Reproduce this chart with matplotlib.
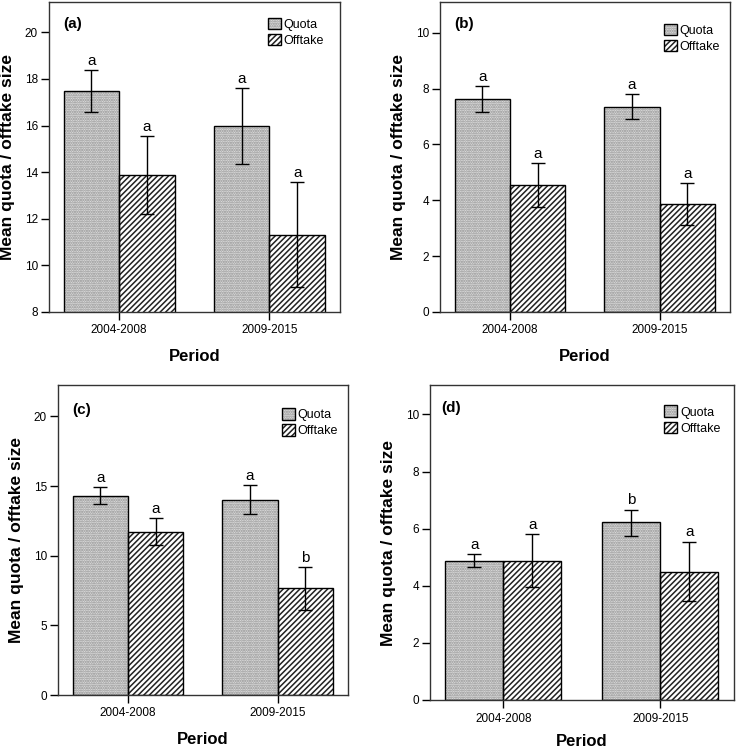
"""Mean quota / offtake size per period, four panels (a)-(d)."""

import matplotlib
matplotlib.use("Agg")
import matplotlib.pyplot as plt
from matplotlib.legend_handler import HandlerTuple
from matplotlib.patches import Patch

plt.rcParams["font.family"] = ["Liberation Sans", "DejaVu Sans"]
plt.rcParams["hatch.linewidth"] = 1.1

periods = ["2004-2008", "2009-2015"]
panels = ["(a)", "(b)", "(c)", "(d)"]

# means and error bar ends, one list per period
a_quota = [17.50, 15.97]
a_quota_lo = [16.57, 14.33]
a_quota_hi = [18.40, 17.60]
a_off = [13.88, 11.31]
a_off_lo = [12.20, 9.09]
a_off_hi = [15.54, 13.57]

b_quota = [7.62, 7.35]
b_quota_lo = [7.15, 6.91]
b_quota_hi = [8.09, 7.79]
b_off = [4.55, 3.88]
b_off_lo = [3.76, 3.13]
b_off_hi = [5.32, 4.62]

c_quota = [14.30, 14.02]
c_quota_lo = [13.69, 12.99]
c_quota_hi = [14.93, 15.10]
c_off = [11.72, 7.70]
c_off_lo = [10.74, 6.12]
c_off_hi = [12.68, 9.21]

d_quota = [4.88, 6.23]
d_quota_lo = [4.66, 5.76]
d_quota_hi = [5.10, 6.67]
d_off = [4.88, 4.49]
d_off_lo = [3.97, 3.47]
d_off_hi = [5.80, 5.55]

# significance letters
a_quota_sig = ["a", "a"]
a_off_sig = ["a", "a"]
b_quota_sig = ["a", "a"]
b_off_sig = ["a", "a"]
c_quota_sig = ["a", "a"]
c_off_sig = ["a", "b"]
d_quota_sig = ["a", "b"]
d_off_sig = ["a", "a"]

a_yticks = [8, 10, 12, 14, 16, 18, 20]
b_yticks = [0, 2, 4, 6, 8, 10]
c_yticks = [0, 5, 10, 15, 20]
d_yticks = [0, 2, 4, 6, 8, 10]

data = [
    (a_quota, a_quota_lo, a_quota_hi, a_quota_sig, a_off, a_off_lo, a_off_hi, a_off_sig, a_yticks),
    (b_quota, b_quota_lo, b_quota_hi, b_quota_sig, b_off, b_off_lo, b_off_hi, b_off_sig, b_yticks),
    (c_quota, c_quota_lo, c_quota_hi, c_quota_sig, c_off, c_off_lo, c_off_hi, c_off_sig, c_yticks),
    (d_quota, d_quota_lo, d_quota_hi, d_quota_sig, d_off, d_off_lo, d_off_hi, d_off_sig, d_yticks),
]

# layout (pixel-measured): axes rect, ylim, legend anchor, panel label pos
W, H = 736, 750
layout = [
    dict(rect=(49, 2, 291, 310), ylim=(8, 21.3), leg=(0.945, 0.95), lab=(0.048, 0.952), xpad=9),
    dict(rect=(440, 2, 290, 310), ylim=(0, 11.1), leg=(0.965, 0.93), lab=(0.049, 0.952), xpad=9),
    dict(rect=(58, 385, 290, 310), ylim=(0, 22.25), leg=(0.965, 0.925), lab=(0.048, 0.941), xpad=9),
    dict(rect=(430, 385, 304, 315), ylim=(0, 11.03), leg=(0.955, 0.935), lab=(0.038, 0.949), xpad=7),
]

quota_face = "#e0e0e0"
quota_dots = "#8c8c8c"
quota_hatch = "......."
off_hatch = "//////"
width = 0.37
x = [0, 1]

fig = plt.figure(figsize=(W / 100, H / 100), dpi=100)

for i, (q, qlo, qhi, qsig, o, olo, ohi, osig, yticks) in enumerate(data):
    lay = layout[i]
    l, t, w, h = lay["rect"]
    ax = fig.add_axes([l / W, 1 - (t + h) / H, w / W, h / H])

    xq = [xi - width / 2 for xi in x]
    xo = [xi + width / 2 for xi in x]

    # hatched fills first, then black outlines on top
    ax.bar(xq, q, width, color=quota_face, edgecolor=quota_dots, hatch=quota_hatch, linewidth=0)
    ax.bar(xo, o, width, color="white", edgecolor="#222222", hatch=off_hatch, linewidth=0)
    ax.bar(xq, q, width, fill=False, edgecolor="black", linewidth=1.0)
    ax.bar(xo, o, width, fill=False, edgecolor="black", linewidth=1.0)

    for xs, m, lo, hi, sig in ((xq, q, qlo, qhi, qsig), (xo, o, olo, ohi, osig)):
        err = [[mi - li for mi, li in zip(m, lo)], [hi_ - mi for mi, hi_ in zip(m, hi)]]
        ax.errorbar(xs, m, yerr=err, fmt="none", ecolor="black", elinewidth=1.0,
                    capsize=5, capthick=1.0)
        for xi, top, s in zip(xs, hi, sig):
            ax.annotate(s, (xi, top), xytext=(0, 1.5), textcoords="offset points",
                        ha="center", va="bottom", fontsize=11)

    ax.set_xlim(-0.467, 1.47)
    ax.set_ylim(*lay["ylim"])
    ax.set_yticks(yticks)
    ax.set_xticks(x)
    ax.set_xticklabels(periods)
    ax.tick_params(axis="both", direction="out", length=6, width=1, labelsize=8.5,
                   colors="black")
    ax.tick_params(axis="y", pad=2)
    ax.tick_params(axis="x", pad=3)
    for sp in ax.spines.values():
        sp.set_color("#333333")
        sp.set_linewidth(1.0)

    ax.set_xlabel("Period", fontsize=12, fontweight="bold", labelpad=lay["xpad"])
    ax.set_ylabel("Mean quota / offtake size", fontsize=12.5, fontweight="bold")
    ax.yaxis.set_label_coords(-34 / w, 0.5)

    ax.text(lay["lab"][0], lay["lab"][1], panels[i], transform=ax.transAxes,
            ha="left", va="top", fontsize=11, fontweight="bold")

    h_quota = (Patch(facecolor=quota_face, edgecolor=quota_dots, hatch=quota_hatch, linewidth=0),
               Patch(fill=False, edgecolor="black", linewidth=1.0))
    h_off = (Patch(facecolor="white", edgecolor="#222222", hatch=off_hatch, linewidth=0),
             Patch(fill=False, edgecolor="black", linewidth=1.0))
    ax.legend([h_quota, h_off], ["Quota", "Offtake"], handler_map={tuple: HandlerTuple(ndivide=1)},
              loc="upper right", bbox_to_anchor=lay["leg"], frameon=False, fontsize=9,
              handlelength=1.05, handleheight=1.05, handletextpad=0.2, labelspacing=0.25,
              borderpad=0, borderaxespad=0)

fig.savefig("out.png", dpi=100)
